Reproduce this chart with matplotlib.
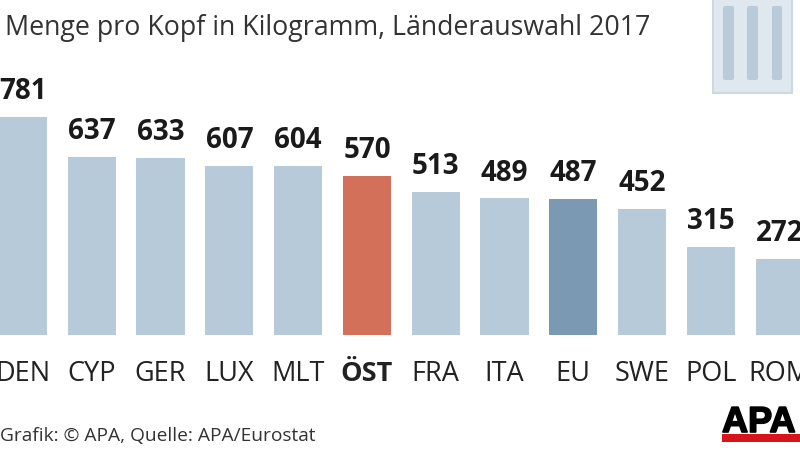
import matplotlib
matplotlib.use("Agg")
import matplotlib.pyplot as plt
import matplotlib.patheffects as pe
from matplotlib.patches import Rectangle, FancyBboxPatch

categories = ["DEN", "CYP", "GER", "LUX", "MLT", "ÖST", "FRA", "ITA", "EU", "SWE", "POL", "ROM"]
values = [781, 637, 633, 607, 604, 570, 513, 489, 487, 452, 315, 272]
colors = ["#b7cad9"] * 12
colors[5] = "#d2705a"
colors[8] = "#7c99b3"
title = "Menge pro Kopf in Kilogramm, Länderauswahl 2017"
source = "Grafik: © APA, Quelle: APA/Eurostat"

plt.rcParams["font.family"] = ["Open Sans", "DejaVu Sans"]
fig = plt.figure(figsize=(8, 4.52), dpi=100)

# overlay in pixel coordinates for title, source and decorations
px = fig.add_axes([0, 0, 1, 1])
px.set_xlim(0, 800)
px.set_ylim(452, 0)
px.axis("off")

# chart axes: spans the full figure, baseline at y=336 px
ax = fig.add_axes([0, 0, 1, 1])
ax.patch.set_alpha(0)
ax.set_xlim(-0.334, 11.294)
ax.set_ylim(-416, 1204)
ax.axis("off")

xs = list(range(len(categories)))
ax.bar(xs, values, width=0.70, color=colors, linewidth=0)
for x, v, c in zip(xs, values, categories):
    ax.text(x, v + 68, str(v), ha="center", va="baseline", fontsize=20,
            fontweight="bold", color="#1a1a1a", clip_on=False)
    ax.text(x, -163, c, ha="center", va="baseline", fontsize=19.5,
            fontweight="bold" if c == "ÖST" else "normal", color="#222222", clip_on=False)

px.text(5, 35, title, ha="left", va="baseline", fontsize=19.3, color="#333333")
px.text(0, 441, source, ha="left", va="baseline", fontsize=13.8, color="#333333")

# trash can
px.add_patch(Rectangle((713, -3), 79, 97, facecolor="#e0e8ef", edgecolor="#cdd8e1", linewidth=1.5))
for left, w in [(723, 11), (747, 11), (772, 10)]:
    px.add_patch(FancyBboxPatch((left + 2, 9), w - 4, 70, boxstyle="round,pad=2",
                                facecolor="#b9cbd9", edgecolor="none"))

# APA logo
px.text(722, 433, "APA", ha="left", va="baseline", fontsize=26, fontweight="bold",
        family="Liberation Sans", color="black", clip_on=False,
        path_effects=[pe.withStroke(linewidth=1.2, foreground="black")])
px.add_patch(Rectangle((722, 435), 78, 8, facecolor="#d8141a", edgecolor="none"))

fig.savefig("out.png", dpi=100)
